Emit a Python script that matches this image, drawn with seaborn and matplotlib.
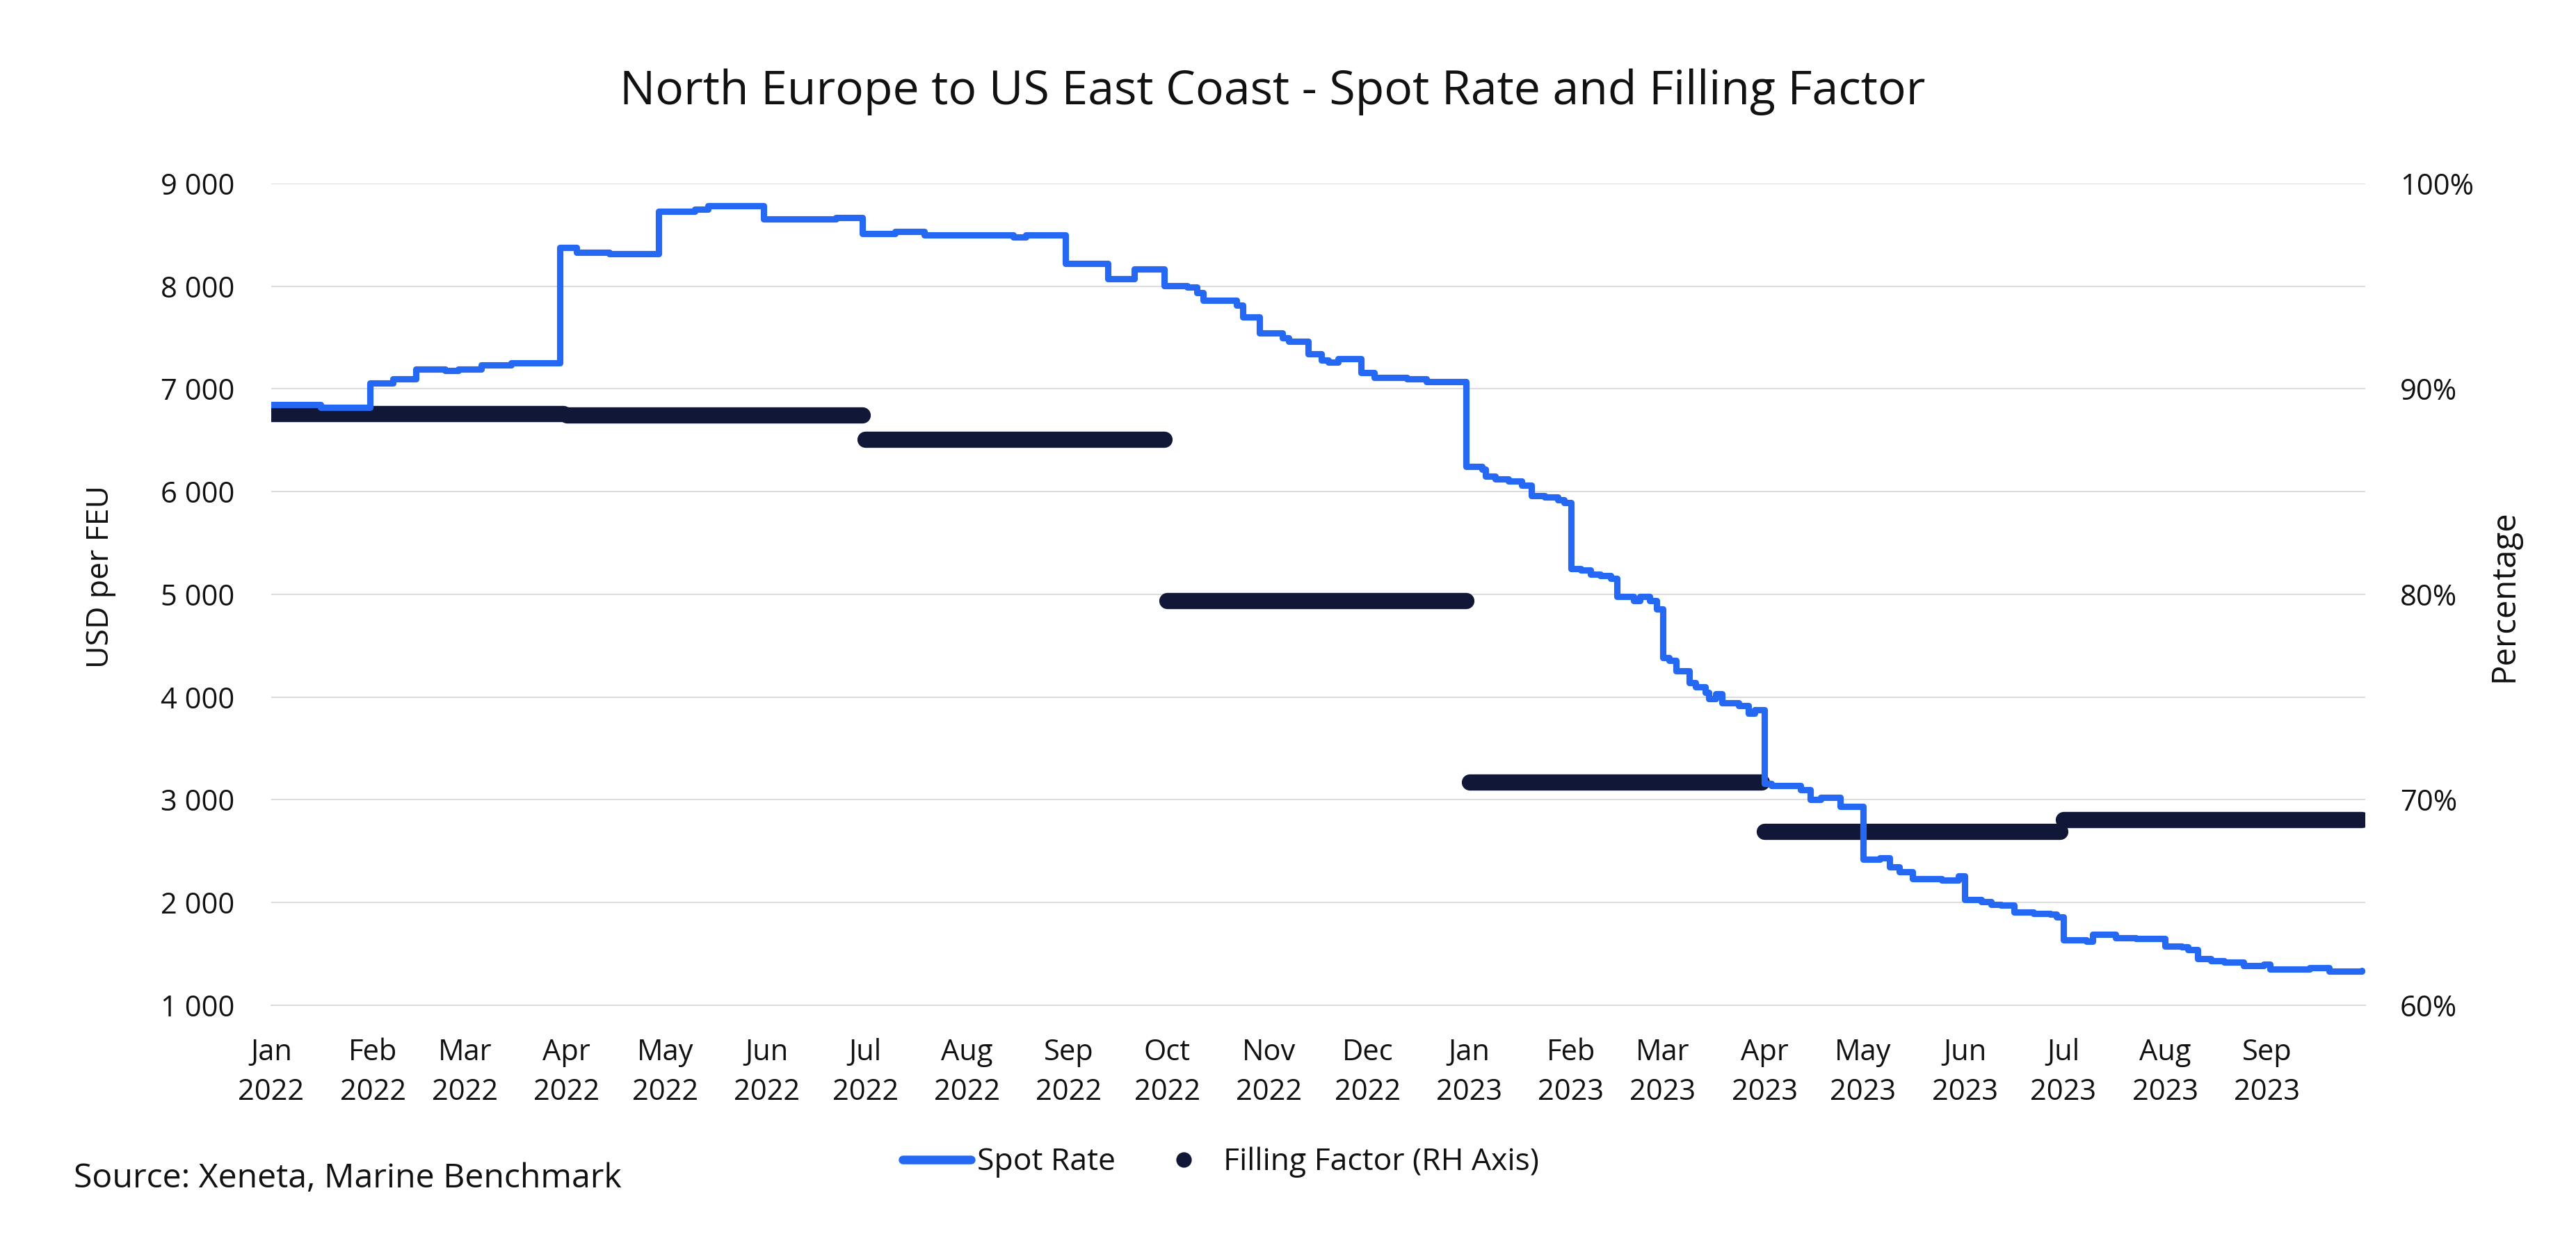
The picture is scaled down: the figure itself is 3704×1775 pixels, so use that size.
import numpy as np
import pandas as pd
import matplotlib
matplotlib.use("Agg")
import matplotlib.pyplot as plt
from matplotlib.ticker import FixedLocator, FuncFormatter
from matplotlib.lines import Line2D
import seaborn as sns

# ---------------- data ----------------
spot_dates = [
    "2022-01-01", "2022-01-16", "2022-01-31", "2022-02-07", "2022-02-14", "2022-02-23",
    "2022-02-27", "2022-03-06", "2022-03-15", "2022-03-30", "2022-04-04", "2022-04-14",
    "2022-04-29", "2022-05-10", "2022-05-14", "2022-05-31", "2022-06-22", "2022-06-30",
    "2022-07-10", "2022-07-19", "2022-08-15", "2022-08-19", "2022-08-31", "2022-09-13",
    "2022-09-21", "2022-09-30", "2022-10-07", "2022-10-10", "2022-10-12", "2022-10-22",
    "2022-10-24", "2022-10-29", "2022-11-05", "2022-11-07", "2022-11-13", "2022-11-17",
    "2022-11-19", "2022-11-22", "2022-11-29", "2022-12-03", "2022-12-13", "2022-12-19",
    "2022-12-31", "2023-01-05", "2023-01-06", "2023-01-09", "2023-01-13", "2023-01-17",
    "2023-01-20", "2023-01-24", "2023-01-28", "2023-01-30", "2023-02-01", "2023-02-04",
    "2023-02-07", "2023-02-10", "2023-02-13", "2023-02-15", "2023-02-20", "2023-02-22",
    "2023-02-25", "2023-02-27", "2023-03-01", "2023-03-03", "2023-03-05", "2023-03-09",
    "2023-03-11", "2023-03-14", "2023-03-15", "2023-03-17", "2023-03-19", "2023-03-24",
    "2023-03-27", "2023-03-29", "2023-04-01", "2023-04-03", "2023-04-12", "2023-04-15",
    "2023-04-18", "2023-04-24", "2023-05-01", "2023-05-06", "2023-05-09", "2023-05-12",
    "2023-05-16", "2023-05-25", "2023-05-30", "2023-06-01", "2023-06-06", "2023-06-09",
    "2023-06-12", "2023-06-16", "2023-06-22", "2023-06-27", "2023-06-29", "2023-07-01",
    "2023-07-08", "2023-07-10", "2023-07-17", "2023-07-23", "2023-08-01", "2023-08-06",
    "2023-08-08", "2023-08-11", "2023-08-15", "2023-08-19", "2023-08-25", "2023-08-31",
    "2023-09-02", "2023-09-14", "2023-09-20", "2023-09-30",
]
spot_values = [
    6850, 6820, 7060, 7095, 7195, 7180,
    7195, 7230, 7250, 8375, 8330, 8315,
    8730, 8750, 8785, 8655, 8668, 8515,
    8535, 8500, 8476, 8500, 8220, 8075,
    8165, 8005, 7993, 7937, 7862, 7813,
    7700, 7542, 7497, 7463, 7339, 7282,
    7260, 7293, 7158, 7113, 7096, 7070,
    6243, 6217, 6152, 6121, 6100, 6062,
    5959, 5946, 5920, 5894, 5248, 5235,
    5196, 5183, 5157, 4977, 4938, 4977,
    4938, 4860, 4382, 4357, 4253, 4137,
    4098, 4047, 3982, 4034, 3943, 3917,
    3840, 3879, 3158, 3135, 3100, 3000,
    3023, 2932, 2424, 2436, 2345, 2300,
    2233, 2221, 2255, 2029, 2007, 1984,
    1973, 1905, 1894, 1883, 1860, 1634,
    1623, 1690, 1657, 1646, 1578, 1567,
    1544, 1454, 1431, 1420, 1386, 1397,
    1352, 1363, 1330, 1341,
]

ff_start = ["2022-01-01", "2022-04-01", "2022-07-01", "2022-10-01",
            "2023-01-01", "2023-04-01", "2023-07-01"]
ff_end = ["2022-03-31", "2022-06-30", "2022-09-30", "2022-12-31",
          "2023-03-31", "2023-06-30", "2023-09-30"]
ff_values = [88.78, 88.74, 87.53, 79.69, 70.85, 68.47, 69.04]

left_ticks = [1000, 2000, 3000, 4000, 5000, 6000, 7000, 8000, 9000]
right_ticks = [60, 70, 80, 90, 100]

title = "North Europe to US East Coast - Spot Rate and Filling Factor"
source = "Source: Xeneta, Marine Benchmark"
left_label = "USD per FEU"
right_label = "Percentage"

BLUE = "#2468F4"
NAVY = "#111837"
GRID = "#D9D9D9"

# ---------------- frames ----------------
df_spot = pd.DataFrame({"date": pd.to_datetime(spot_dates), "rate": spot_values})
ff_rows = []
for i, (s, e, v) in enumerate(zip(ff_start, ff_end, ff_values)):
    ff_rows.append({"date": pd.Timestamp(s), "ff": v, "q": i})
    ff_rows.append({"date": pd.Timestamp(e), "ff": v, "q": i})
df_ff = pd.DataFrame(ff_rows)

month_ticks = pd.date_range("2022-01-01", "2023-10-01", freq="MS")
month_labels = [f"{d:%b}\n{d:%Y}" for d in month_ticks[:-1]] + [""]

# ---------------- style ----------------
sns.set_theme(style="white")
plt.rcParams["font.family"] = ["Open Sans", "DejaVu Sans"]
plt.rcParams["text.color"] = "#111111"
plt.rcParams["axes.labelcolor"] = "#111111"
plt.rcParams["xtick.color"] = "#111111"
plt.rcParams["ytick.color"] = "#111111"

fig = plt.figure(figsize=(18.52, 8.875), dpi=200)
fig.patch.set_facecolor("white")
ax = fig.add_axes([0.1053, 0.1854, 0.8129, 0.6659])
ax2 = ax.twinx()
ax.set_zorder(2)
ax2.set_zorder(1)
ax.patch.set_visible(False)

# filling factor (right axis, drawn below)
sns.lineplot(data=df_ff, x="date", y="ff", units="q", estimator=None, ax=ax2,
             color=NAVY, linewidth=8.4, solid_capstyle="round", legend=False)
# spot rate (left axis, on top)
sns.lineplot(data=df_spot, x="date", y="rate", ax=ax, color=BLUE, linewidth=3.3,
             drawstyle="steps-post", solid_joinstyle="round", solid_capstyle="round",
             legend=False)

ax.set_xlim(month_ticks[0], month_ticks[-1])
ax.set_ylim(1000, 9000)
ax2.set_ylim(60, 100)

# grid drawn on the lower axes so the bars cover it
ax2.yaxis.set_major_locator(FixedLocator(right_ticks))
ax2.yaxis.set_minor_locator(FixedLocator([65, 75, 85, 95]))
ax2.grid(which="both", axis="y", color=GRID, linewidth=0.65)
ax2.grid(False, axis="x")
ax2.set_axisbelow(True)
ax.grid(False)

ax.set_yticks(left_ticks)
ax.yaxis.set_major_formatter(FuncFormatter(lambda v, p: f"{v:,.0f}".replace(",", " ")))
ax2.yaxis.set_major_formatter(FuncFormatter(lambda v, p: f"{v:.0f}%"))

ax.set_xticks(month_ticks)
ax.set_xticklabels(month_labels)
for lbl in ax.get_xticklabels():
    lbl.set_linespacing(1.47)

ax.tick_params(axis="x", length=6.8, width=0.65, color=GRID, pad=10, labelsize=15)
ax.tick_params(axis="y", length=0, pad=19, labelsize=15)
ax2.tick_params(axis="y", which="both", length=0, pad=18, labelsize=15)

for s in ["top", "left", "right"]:
    ax.spines[s].set_visible(False)
ax.spines["bottom"].set_color(GRID)
ax.spines["bottom"].set_linewidth(0.65)
for s in ax2.spines.values():
    s.set_visible(False)

ax.set_xlabel("")
ax.set_ylabel("")
ax2.set_ylabel("")
fig.text(0.0392, 0.5324, left_label, rotation=90, ha="center", va="center", fontsize=16)
fig.text(0.9722, 0.5172, right_label, rotation=90, ha="center", va="center", fontsize=17)

fig.text(0.494, 0.9155, title, ha="center", va="baseline", fontsize=24.5)
fig.text(0.0286, 0.038, source, ha="left", va="baseline", fontsize=17.4)

handles = [
    Line2D([], [], color=BLUE, linewidth=4.5, solid_capstyle="round"),
    Line2D([], [], color=NAVY, marker="o", linestyle="none", markersize=7),
]
fig.legend(handles, ["Spot Rate", "Filling Factor (RH Axis)"], loc="center",
           bbox_to_anchor=(0.474, 0.058), bbox_transform=fig.transFigure, ncol=2,
           frameon=False, fontsize=16, handlelength=2.2, handletextpad=0.2,
           columnspacing=1.1)

fig.savefig("out.png", dpi=200, facecolor="white")
